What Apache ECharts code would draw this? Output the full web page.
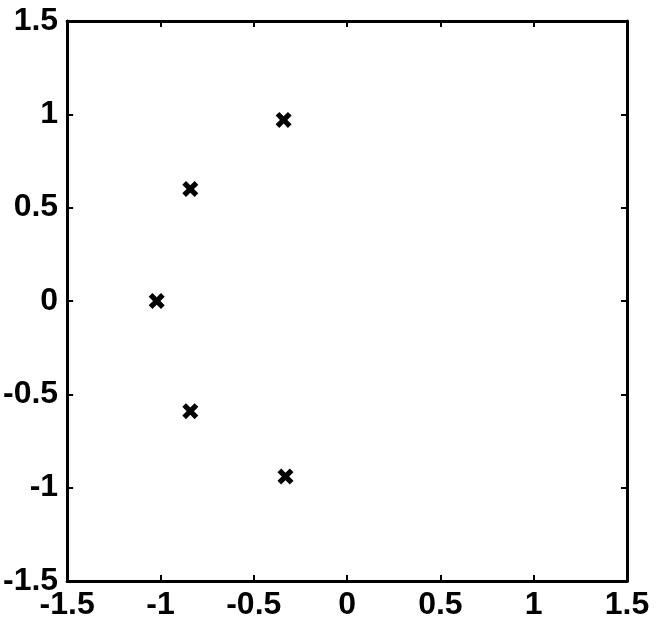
<!DOCTYPE html>
<html>
<head>
<meta charset="utf-8">
<script src="https://cdn.jsdelivr.net/npm/echarts@6/dist/echarts.min.js"></script>
<style>html,body{margin:0;padding:0;background:#fff}#c{width:661px;height:625px}</style>
</head>
<body>
<div id="c"></div>
<script>
var xValues = [-0.34, -0.84, -1.02, -0.84, -0.33];
var yValues = [0.97, 0.60, 0.00, -0.59, -0.94];
var tickLabels = ['-1.5', '-1', '-0.5', '0', '0.5', '1', '1.5'];

var points = xValues.map(function (x, i) { return [x, yValues[i]]; });
var font = 'Liberation Sans, Arial, sans-serif';
function fmt(v) {
  var idx = Math.round((v + 1.5) / 0.5);
  return tickLabels[idx] !== undefined ? tickLabels[idx] : String(v);
}

var xMark = 'path://M0,2.3 L2.3,0 L5,2.7 L7.7,0 L10,2.3 L7.3,5 L10,7.7 L7.7,10 L5,7.3 L2.3,10 L0,7.7 L2.7,5 Z';

function axisBase(pos, showLabel, isX) {
  return {
    type: 'value', position: pos, min: -1.5, max: 1.5, interval: 0.5,
    axisLine: { show: true, onZero: false, lineStyle: { color: '#000', width: 3 } },
    axisTick: { show: true, inside: true, length: 6, lineStyle: { color: '#000', width: 2 } },
    splitLine: { show: false },
    axisLabel: {
      show: showLabel, color: '#000', fontSize: 32, fontWeight: 'bold', fontFamily: font,
      margin: isX ? 8 : 9, formatter: fmt
    }
  };
}

var chart = echarts.init(document.getElementById('c'));
chart.setOption({
  animation: false,
  backgroundColor: '#fff',
  grid: { left: 66, right: 34, top: 21, bottom: 44, containLabel: false },
  xAxis: [axisBase('bottom', true, true), axisBase('top', false, true)],
  yAxis: [axisBase('left', true, false), axisBase('right', false, false)],
  series: [{
    type: 'scatter',
    data: points,
    symbol: xMark,
    symbolSize: 16,
    itemStyle: { color: '#000', opacity: 1 }
  }]
});
</script>
</body>
</html>
